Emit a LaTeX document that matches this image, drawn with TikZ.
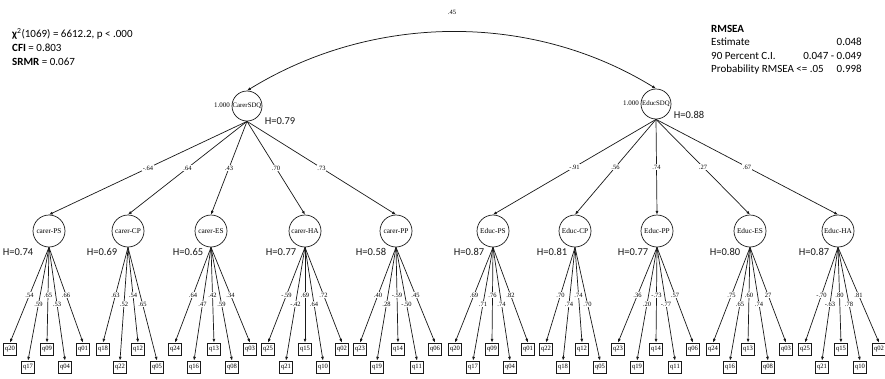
\documentclass[tikz,border=0pt]{standalone}
\usepackage{fontspec}
\setmainfont{Liberation Serif}
\newfontfamily\calib{Carlito}
\usetikzlibrary{arrows.meta}

\tikzset{
  conn/.style={draw=black!90, line width=0.7pt, -{Latex[length=3.8pt,width=3pt]}},
  covar/.style={draw=black!90, line width=0.75pt, {Latex[length=3.8pt,width=3pt]}-{Latex[length=3.8pt,width=3pt]}},
  topfac/.style={circle, draw=black!90, line width=0.7pt, minimum size=30pt, inner sep=0pt, font=\fontsize{6.8}{7}\selectfont},
  subfac/.style={circle, draw=black!90, line width=0.7pt, minimum size=32pt, inner sep=0pt, font=\fontsize{7.3}{8}\selectfont},
  itembox/.style={rectangle, draw=black!90, line width=0.8pt, minimum width=13pt, minimum height=12pt, inner sep=0pt, font=\fontsize{6.6}{7}\selectfont},
  coef/.style={fill=white, inner sep=0.6pt, font=\fontsize{6.5}{7}\selectfont},
  varlab/.style={inner sep=0pt, font=\fontsize{7}{8}\selectfont},
  hval/.style={anchor=base, inner sep=0pt, font=\calib\fontsize{10.5}{12}\selectfont, text=black!90},
  stat/.style={anchor=base west, inner sep=0pt, font=\calib\fontsize{11}{13}\selectfont, text=black},
  statval/.style={anchor=base east, inner sep=0pt, font=\calib\fontsize{11}{13}\selectfont, text=black},
}

\begin{document}
\begin{tikzpicture}[x=1pt, y=-1pt]
\useasboundingbox[fill=white] (0,0) rectangle (885,378);

% fit statistics
\node[stat] (chi) at (12,37.5) {\textbf{χ}\textsuperscript{2}(1069) = 6612.2, p < .000};
\node[stat] (cfi) at (12,51.5) {\textbf{CFI} = 0.803};
\node[stat] (srmr) at (12,65.5) {\textbf{SRMR} = 0.067};

\node[stat] (rmsea) at (711,32.3) {\textbf{RMSEA}};
\node[stat] (est) at (711,45.7) {Estimate};
\node[statval] (estv) at (862,45.7) {0.048};
\node[stat] (ci) at (711,59) {90 Percent C.I.};
\node[statval] (civ) at (862,59) {0.047 - 0.049};
\node[stat] (prob) at (711,72.7) {Probability RMSEA <= .05};
\node[statval] (probv) at (862,72.7) {0.998};

% second-order factors
\node[topfac] (carer) at (247,106) {CarerSDQ};
\node[topfac] (educ) at (656,104) {EducSDQ};
\node[varlab] (carervar) at (222,105) {1.000};
\node[varlab] (educvar) at (631,103) {1.000};
\node[hval] (hcarer) at (280,124) {H=0.79};
\node[hval] (heduc) at (689,118) {H=0.88};

% covariance between the two second-order factors
\draw[covar] (carer.north) .. controls +(125,-77) and +(-125,-77) .. (educ.north);
\node[coef] (covlab) at (452,12.5) {.45};

% first-order factors with reliabilities
\foreach \n/\x/\t/\h/\hx in {
  cPS/49/carer-PS/0.74/18, cCP/128/carer-CP/0.69/102, cES/211/carer-ES/0.65/188,
  cHA/305/carer-HA/0.77/281, cPP/396/carer-PP/0.58/371,
  ePS/493/Educ-PS/0.87/469, eCP/575/Educ-CP/0.81/552, ePP/657/Educ-PP/0.77/633,
  eES/750/Educ-ES/0.80/725, eHA/838/Educ-HA/0.87/814}
{
  \node[subfac] (\n) at (\x,231) {\t};
  \node[hval] (h\n) at (\hx,255.5) {H=\h};
}

% second-order loadings
\foreach \n/\l in {cPS/-.64, cCP/.64, cES/.43, cHA/.70, cPP/.73}
  \draw[conn] (carer.south) -- node[coef] {\l} (\n.north);
\foreach \n/\l in {ePS/-.91, eCP/.56, ePP/.74, eES/.27, eHA/.67}
  \draw[conn] (educ.south) -- node[coef] {\l} (\n.north);

% items and first-order loadings
\foreach \n/\q/\x/\y/\l in {
  cPS/q20/10/349/.54, cPS/q17/28/367/.59, cPS/q09/47/349/.65, cPS/q04/65/367/.53, cPS/q01/83/349/.66,
  cCP/q18/103/349/.63, cCP/q22/120/367/.52, cCP/q12/138/349/.54, cCP/q05/157/367/.65,
  cES/q24/175/349/.64, cES/q16/194/367/.47, cES/q13/214/349/.42, cES/q08/232/367/.59, cES/q03/250/349/.34,
  cHA/q25/268/349/-.59, cHA/q21/286/367/-.42, cHA/q15/305/349/.69, cHA/q10/323/367/.64, cHA/q02/342/349/.72,
  cPP/q23/360/349/.40, cPP/q19/377/367/.28, cPP/q14/398/349/-.59, cPP/q11/417/367/-.50, cPP/q06/435/349/.45,
  ePS/q20/455/349/.69, ePS/q17/473/367/.71, ePS/q09/492/349/.76, ePS/q04/510/367/.74, ePS/q01/528/349/.82,
  eCP/q22/546/349/.70, eCP/q18/563/367/.74, eCP/q12/582/349/.74, eCP/q05/600/367/.70,
  ePP/q23/618/349/.36, ePP/q19/637/367/.20, ePP/q14/656/349/-.73, ePP/q11/675/367/-.77, ePP/q06/693/349/.57,
  eES/q24/713/349/.75, eES/q16/730/367/.65, eES/q13/748/349/.60, eES/q08/768/367/.74, eES/q03/786/349/27,
  eHA/q25/805/349/-.70, eHA/q21/822/367/-.63, eHA/q15/841/349/.80, eHA/q10/860/367/.78, eHA/q02/879/349/.81}
{
  \node[itembox] (\n\q) at (\x,\y) {\q};
  \draw[conn] (\n.south) -- node[coef] {\l} (\n\q.north);
}
\end{tikzpicture}
\end{document}
